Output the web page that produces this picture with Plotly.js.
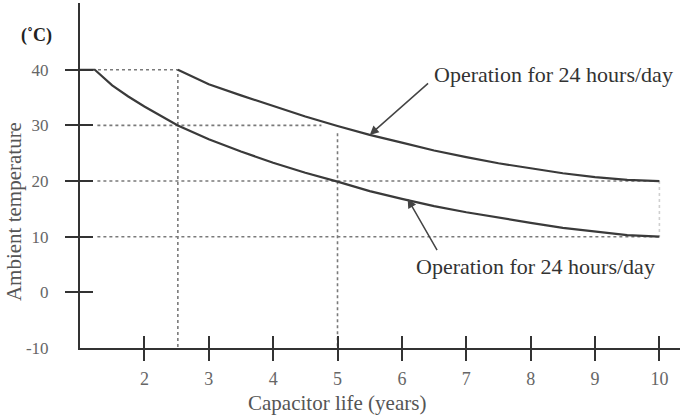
<!DOCTYPE html>
<html><head><meta charset="utf-8">
<script src="https://cdn.plot.ly/plotly-3.0.1.min.js"></script>
<style>html,body{margin:0;padding:0;background:#fff}#chart{width:680px;height:416px}</style>
</head><body><div id="chart"></div>
<script>
// Capacitor life (years) vs ambient temperature (°C)
const lowerLife = [1.0, 1.23, 1.5, 1.75, 2.0, 2.25, 2.52, 3.0, 3.5, 4.0, 4.5, 5.0, 5.5, 6.0, 6.5, 7.0, 7.5, 8.0, 8.5, 9.0, 9.5, 10.0];
const lowerTemp = [40, 40, 37.2, 35.2, 33.4, 31.7, 30.0, 27.5, 25.3, 23.3, 21.5, 19.9, 18.2, 16.8, 15.5, 14.4, 13.4, 12.5, 11.6, 10.9, 10.3, 10];
const upperLife = [2.52, 3.0, 3.5, 4.0, 4.5, 5.0, 5.5, 6.0, 6.5, 7.0, 7.5, 8.0, 8.5, 9.0, 9.5, 10.0];
const upperTemp = [40, 37.4, 35.4, 33.5, 31.6, 29.9, 28.3, 26.9, 25.5, 24.3, 23.2, 22.3, 21.4, 20.7, 20.2, 20];
// dotted guide lines
const guideLife = [[1.28, 2.52, 2.52], [1.27, 4.75], [5, 5], [1.27, 10], [1.27, 10], [10, 10]];
const guideTemp = [[40, 40, -10], [30, 30], [28.6, -10], [20, 20], [10, 10], [20, 10]];
const xTickVals = [2, 3, 4, 5, 6, 7, 8, 9, 10];
const yTickVals = [-10, 0, 10, 20, 30, 40];
const yTickText = ["-10", "0", "10", "20", "30", "40"];
const yMarkVals = [0, 10, 20, 30, 40];
const annText = "Operation for 24 hours/day";
const xTitle = "Capacitor life (years)";
const yTitle = "Ambient temperature";
const unitLabel = "(˚C)";

const serif = "Liberation Serif, Times New Roman, serif";
const traces = [];
guideLife.forEach((gx, i) => {
  traces.push({x: gx, y: guideTemp[i], mode: 'lines', hoverinfo: 'skip',
    line: {color: i === 5 ? '#d0d0d0' : '#7a7a7a', width: 1.6, dash: 'dot'}});
});
traces.push({x: lowerLife, y: lowerTemp, mode: 'lines', line: {color: '#3a3a3a', width: 2.2}});
traces.push({x: upperLife, y: upperTemp, mode: 'lines', line: {color: '#3a3a3a', width: 2.2}});
// invisible traces to attach tick-only overlay axes
traces.push({x: [1], y: [0], xaxis: 'x2', yaxis: 'y2', mode: 'markers', marker: {opacity: 0}, hoverinfo: 'skip'});
traces.push({x: [1], y: [0], xaxis: 'x3', yaxis: 'y3', mode: 'markers', marker: {opacity: 0}, hoverinfo: 'skip'});

const xr = [1, 10.32], yr = [-10, 52];
const layout = {
  width: 680, height: 416, showlegend: false,
  margin: {l: 80, r: 0, t: 3, b: 68},
  paper_bgcolor: '#fff', plot_bgcolor: '#fff',
  font: {family: serif, color: '#555', size: 15},
  xaxis: {range: xr, tickvals: xTickVals, ticks: '', showgrid: false, zeroline: false,
    showline: true, linecolor: '#333', linewidth: 2, ticklabelstandoff: 13,
    tickfont: {family: serif, size: 18, color: '#666'}},
  yaxis: {range: yr, tickvals: yTickVals, ticktext: yTickText, ticks: '', showgrid: false, zeroline: false,
    showline: true, linecolor: '#333', linewidth: 2, ticklabelstandoff: 26,
    tickfont: {family: serif, size: 17, color: '#666'}},
  xaxis2: {range: xr, overlaying: 'x', anchor: 'y2', tickvals: xTickVals, ticks: 'outside', ticklen: 12,
    tickwidth: 2, tickcolor: '#333', showticklabels: false, showgrid: false, zeroline: false, showline: false},
  yaxis2: {range: yr, overlaying: 'y', anchor: 'x2', tickvals: yMarkVals, ticks: 'outside', ticklen: 14,
    tickwidth: 2, tickcolor: '#333', showticklabels: false, showgrid: false, zeroline: false, showline: false},
  xaxis3: {range: xr, overlaying: 'x', anchor: 'y3', tickvals: xTickVals, ticks: 'inside', ticklen: 12,
    tickwidth: 2, tickcolor: '#333', showticklabels: false, showgrid: false, zeroline: false, showline: false},
  yaxis3: {range: yr, overlaying: 'y', anchor: 'x3', tickvals: yMarkVals, ticks: 'inside', ticklen: 13,
    tickwidth: 2, tickcolor: '#333', showticklabels: false, showgrid: false, zeroline: false, showline: false},
  annotations: [
    {x: 8.36, y: 39.1, xref: 'x', yref: 'y', text: annText, showarrow: false, xanchor: 'center', yanchor: 'middle',
      font: {family: serif, size: 22, color: '#333'}},
    {x: 5.5, y: 28.3, ax: 6.43, ay: 37.8, xref: 'x', yref: 'y', axref: 'x', ayref: 'y', text: '',
      showarrow: true, arrowhead: 2, arrowsize: 1.2, arrowwidth: 1.5, arrowcolor: '#444'},
    {x: 8.07, y: 4.6, xref: 'x', yref: 'y', text: annText, showarrow: false, xanchor: 'center', yanchor: 'middle',
      font: {family: serif, size: 22, color: '#333'}},
    {x: 6.09, y: 16.8, ax: 6.56, ay: 7.3, xref: 'x', yref: 'y', axref: 'x', ayref: 'y', text: '',
      showarrow: true, arrowhead: 2, arrowsize: 1.2, arrowwidth: 1.5, arrowcolor: '#444'},
    {x: -0.073, y: 0.907, xref: 'paper', yref: 'paper', text: '<b>' + unitLabel + '</b>', showarrow: false,
      xanchor: 'center', yanchor: 'middle', font: {family: serif, size: 18, color: '#222'}},
    {x: -0.11, y: 0.394, xref: 'paper', yref: 'paper', text: yTitle, textangle: -90, showarrow: false,
      xanchor: 'center', yanchor: 'middle', font: {family: serif, size: 21, color: '#555'}},
    {x: 0.428, y: -0.159, xref: 'paper', yref: 'paper', text: xTitle, showarrow: false,
      xanchor: 'center', yanchor: 'middle', font: {family: serif, size: 21, color: '#555'}}
  ]
};
Plotly.newPlot('chart', traces, layout, {staticPlot: true, displayModeBar: false});
</script></body></html>
